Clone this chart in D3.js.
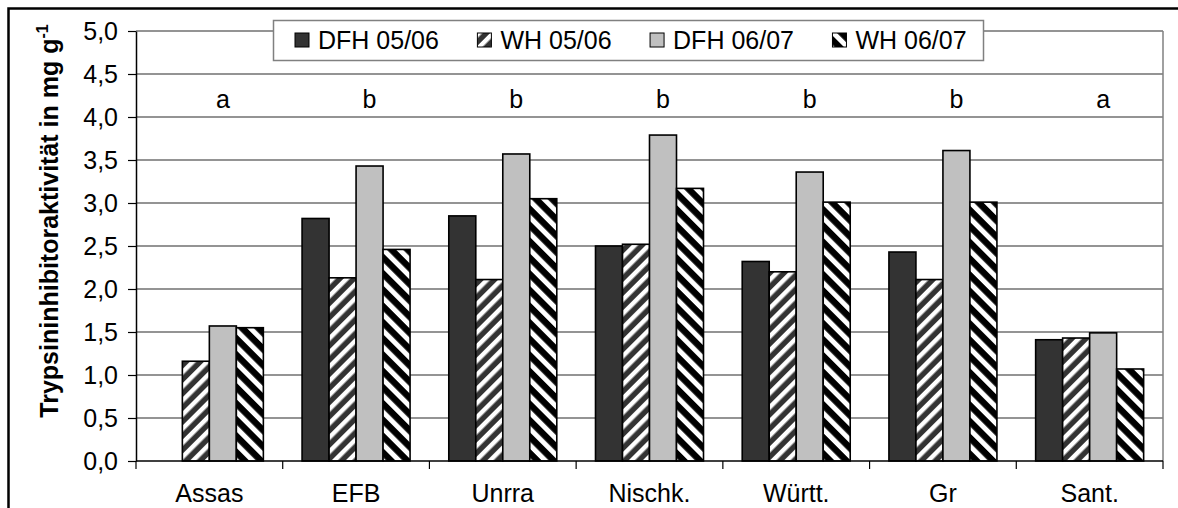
<!DOCTYPE html>
<html><head><meta charset="utf-8">
<script src="https://cdn.jsdelivr.net/npm/d3@7"></script>
<style>
body{margin:0;background:#fff}
text{font-family:"Liberation Sans",Arial,sans-serif;fill:#000}
</style>
</head><body><svg id="c" width="1178" height="508"></svg>
<script>
// ---- data ----
const categories = ["Assas", "EFB", "Unrra", "Nischk.", "Württ.", "Gr", "Sant."];
const series = ["DFH 05/06", "WH 05/06", "DFH 06/07", "WH 06/07"];
const dfh0506 = [null, 2.82, 2.85, 2.50, 2.32, 2.43, 1.41];
const wh0506  = [1.16, 2.13, 2.11, 2.52, 2.20, 2.11, 1.43];
const dfh0607 = [1.57, 3.43, 3.57, 3.79, 3.36, 3.61, 1.49];
const wh0607  = [1.55, 2.46, 3.05, 3.17, 3.01, 3.01, 1.07];
const letters = ["a", "b", "b", "b", "b", "b", "a"];
const yTicks = [0, 0.5, 1, 1.5, 2, 2.5, 3, 3.5, 4, 4.5, 5];
const yTickLabels = ["0,0","0,5","1,0","1,5","2,0","2,5","3,0","3,5","4,0","4,5","5,0"];
const letterLevel = 4.11;

const values = [dfh0506, wh0506, dfh0607, wh0607];
const rows = [];
categories.forEach((c, i) => series.forEach((s, j) => {
  if (values[j][i] != null) rows.push({cat: c, ser: s, v: values[j][i], j});
}));

// ---- layout ----
const svg = d3.select("#c");
const m = {left: 136, right: 1163, top: 31, bottom: 461};
const x0 = d3.scaleBand().domain(categories).range([m.left, m.right]).paddingInner(0).paddingOuter(0);
const x1 = d3.scaleBand().domain(series).range([0, x0.bandwidth()]).paddingInner(0).paddingOuter(0.717);
const y = d3.scaleLinear().domain([0, 5]).range([m.bottom, m.top]);

const defs = svg.append("defs");
function stripes(id, bg, angle, period, white) {
  const p = defs.append("pattern").attr("id", id).attr("patternUnits", "userSpaceOnUse")
    .attr("width", period).attr("height", period).attr("patternTransform", `rotate(${angle})`);
  p.append("rect").attr("width", period).attr("height", period).attr("fill", bg);
  p.append("rect").attr("width", white).attr("height", period).attr("fill", "#fff");
}
stripes("wh1", "#333333", 45, 10, 4.5);
stripes("wh2", "#000000", -45, 11.5, 5);
const fills = ["#333333", "url(#wh1)", "#c0c0c0", "url(#wh2)"];

svg.append("rect").attr("width", 1178).attr("height", 508).attr("fill", "#fff");
svg.append("rect").attr("x", 8.5).attr("y", 8.5).attr("width", 1200).attr("height", 600)
  .attr("fill", "none").attr("stroke", "#000").attr("stroke-width", 2.5);

// gridlines
svg.append("g").selectAll("line").data(yTicks.filter(d => d > 0)).join("line")
  .attr("x1", m.left).attr("x2", m.right).attr("y1", d => y(d)).attr("y2", d => y(d))
  .attr("stroke", "#707070").attr("stroke-width", 1.3);
svg.append("line").attr("x1", m.right).attr("x2", m.right).attr("y1", y(5)).attr("y2", y(0))
  .attr("stroke", "#808080").attr("stroke-width", 1.5);

// bars
svg.append("g").selectAll("rect").data(rows).join("rect")
  .attr("x", d => x0(d.cat) + x1(d.ser))
  .attr("y", d => y(d.v))
  .attr("width", x1.bandwidth())
  .attr("height", d => y(0) - y(d.v))
  .attr("fill", d => fills[d.j])
  .attr("stroke", "#000").attr("stroke-width", 1.6);

// y axis
const ya = svg.append("g").attr("transform", `translate(${m.left},0)`)
  .call(d3.axisLeft(y).tickValues(yTicks).tickFormat((d, i) => yTickLabels[i]).tickSize(8).tickSizeOuter(0).tickPadding(10));
ya.select(".domain").attr("stroke", "#000").attr("stroke-width", 1.5);
ya.selectAll(".tick line").attr("stroke", "#000").attr("stroke-width", 1.2);
ya.selectAll(".tick text").attr("font-size", 25).attr("font-family", "Liberation Sans, Arial, sans-serif").attr("fill", "#000");

// x axis baseline + category ticks
svg.append("line").attr("x1", m.left).attr("x2", m.right).attr("y1", y(0)).attr("y2", y(0))
  .attr("stroke", "#000").attr("stroke-width", 1.5);
const bounds = categories.map(c => x0(c)).concat([m.right]);
svg.append("g").selectAll("line").data(bounds).join("line")
  .attr("x1", d => d).attr("x2", d => d).attr("y1", y(0)).attr("y2", y(0) + 8)
  .attr("stroke", "#000").attr("stroke-width", 1.2);
svg.append("g").selectAll("text").data(categories).join("text")
  .attr("x", d => x0(d) + x0.bandwidth() / 2).attr("y", 502)
  .attr("text-anchor", "middle").attr("font-size", 25).text(d => d);

// letters
svg.append("g").selectAll("text").data(categories).join("text")
  .attr("x", d => x0(d) + x1("DFH 06/07") + x1.bandwidth() / 2).attr("y", y(letterLevel))
  .attr("text-anchor", "middle").attr("font-size", 25).text((d, i) => letters[i]);

// y title
const t = svg.append("text").attr("transform", "translate(58,221) rotate(-90)")
  .attr("text-anchor", "middle").attr("font-size", 25).attr("font-weight", "bold");
t.append("tspan").text("Trypsininhibitoraktivität in mg g");
t.append("tspan").attr("dy", -10).attr("font-size", 16).text("-1");

// legend
const lg = svg.append("g");
lg.append("rect").attr("x", 273.5).attr("y", 20.5).attr("width", 710).attr("height", 40)
  .attr("fill", "#fff").attr("stroke", "#808080").attr("stroke-width", 1.5);
let lx = 295;
series.forEach((s, j) => {
  lg.append("rect").attr("x", lx).attr("y", 33).attr("width", 14).attr("height", 14)
    .attr("fill", fills[j]).attr("stroke", "#000").attr("stroke-width", 1);
  const tx = lg.append("text").attr("x", lx + 23).attr("y", 48.5).attr("font-size", 25).text(s);
  lx = lx + 23 + tx.node().getComputedTextLength() + 38.5;
});
</script>
</body></html>
